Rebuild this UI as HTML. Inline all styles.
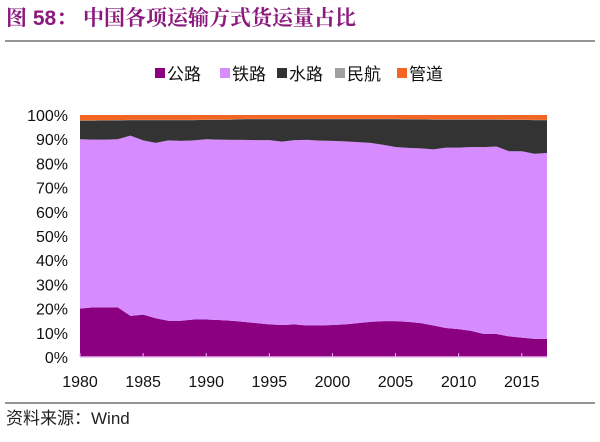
<!DOCTYPE html>
<html><head><meta charset="utf-8">
<style>
body{margin:0;background:#fff;width:600px;height:437px;overflow:hidden;font-family:"Liberation Sans","Noto Sans CJK SC",sans-serif;}
</style></head>
<body>
<svg width="600" height="437" xmlns="http://www.w3.org/2000/svg">
<text x="6" y="25" font-size="21" font-weight="bold" fill="#8B1A7E" font-family="Liberation Sans,Noto Serif CJK SC,serif">图 58： 中国各项运输方式货运量占比</text>
<line x1="5" y1="41" x2="595" y2="41" stroke="#555" stroke-width="1.2"/>
<g id="legend"></g>
<g id="plot"></g>
<g id="yaxis"></g>
<g id="xaxis"></g>
<line x1="5" y1="403" x2="595" y2="403" stroke="#555" stroke-width="1.2"/>
<text x="6" y="424" font-size="17" fill="#222">资料来源：Wind</text>
</svg>
<script>
const years=[];for(let y=1980;y<=2017;y++)years.push(y);
const seriesNames=["公路","铁路","水路","民航","管道"];
const road=[20,20.5,20.5,20.5,17,17.5,16,15,15,15.5,15.5,15.3,15,14.5,14,13.5,13.2,13.5,13,13,13.2,13.5,14,14.5,14.8,14.8,14.5,14,13,12,11.5,10.8,9.5,9.5,8.5,8,7.5,7.5];
const railTop=[90,89.8,89.8,90,91.5,89.5,88.5,89.5,89.3,89.5,90,89.8,89.7,89.7,89.6,89.6,89,89.6,89.7,89.4,89.3,89.1,88.8,88.5,87.7,86.8,86.4,86.2,85.8,86.5,86.5,86.8,86.7,87,85,85,84,84.3];
const rail=railTop.map((v,i)=>v-road[i]);
const air=years.map(()=>0.1);
const pipeline=[2.2,2.2,2.1,2.1,2,2,2,2,2,2,1.9,1.9,1.8,1.6,1.6,1.6,1.6,1.6,1.6,1.6,1.6,1.6,1.6,1.6,1.6,1.6,1.7,1.7,1.8,1.8,1.8,1.8,1.8,1.8,1.9,1.9,2,2];
const water=railTop.map((v,i)=>100-v-air[i]-pipeline[i]);
const yTicks=[0,10,20,30,40,50,60,70,80,90,100];
const xTicks=[1980,1985,1990,1995,2000,2005,2010,2015];
const colors=["#8B007F","#D68BFF","#333333","#A0A0A0","#F26522"];
const X0=80,X1=547,Y0=357,Y1=115;
const xs=y=>X0+(y-1980)/(2017-1980)*(X1-X0);
const ys=v=>Y0-v/100*(Y0-Y1);
const NS="http://www.w3.org/2000/svg";
function mk(t,a,p){const e=document.createElementNS(NS,t);for(const k in a)e.setAttribute(k,a[k]);p.appendChild(e);return e;}
const plot=document.getElementById('plot');
const all=[road,rail,water,air,pipeline];
let base=years.map(()=>0);
all.forEach((s,si)=>{
  const top=base.map((b,i)=>b+s[i]);
  let d="M"+years.map((y,i)=>xs(y)+","+ys(top[i])).join("L");
  for(let i=years.length-1;i>=0;i--)d+="L"+xs(years[i])+","+ys(base[i]);
  const p=mk('path',{d:d+"Z",fill:colors[si]},plot);
  
  
  base=top;
});
const ya=document.getElementById('yaxis');
yTicks.forEach(v=>{const t=mk('text',{x:68,y:ys(v)+6,'text-anchor':'end','font-size':16,fill:'#111'},ya);t.textContent=v+"%";

});
const xa=document.getElementById('xaxis');
mk('line',{x1:X0,y1:Y0,x2:X1,y2:Y0,stroke:'#E8B8F0','stroke-width':1.5},xa);
xTicks.forEach(v=>{mk('line',{x1:xs(v),y1:Y0,x2:xs(v),y2:Y0-4,stroke:'#E8B8F0','stroke-width':1},xa);
const t=mk('text',{x:xs(v),y:Y0+30,'text-anchor':'middle','font-size':16,fill:'#111'},xa);t.textContent=v;

});
const lg=document.getElementById('legend');
const lx=[155,220,277,335,397];
seriesNames.forEach((n,i)=>{const g=mk('g',{},lg);


mk('rect',{x:lx[i],y:68,width:10,height:10,fill:colors[i]},g);
const t=mk('text',{x:lx[i]+12,y:80,'font-size':17,fill:'#111'},g);t.textContent=n;});
</script>
</body></html>
